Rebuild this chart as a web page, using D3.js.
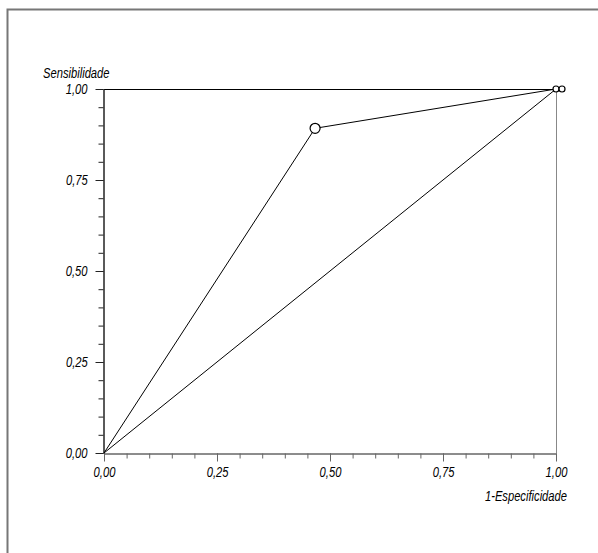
<!DOCTYPE html>
<html>
<head>
<meta charset="utf-8">
<script src="https://cdn.jsdelivr.net/npm/d3@7"></script>
<style>
  body { margin: 0; background: #fff; }
  text { font-family: "Liberation Sans", Arial, sans-serif; font-style: italic; font-size: 14px; fill: #000;
         transform-box: fill-box; transform: scaleX(0.8); }
  text.left { transform-origin: left center; }
  text.mid { transform-origin: center center; }
  text.right { transform-origin: right center; }
</style>
</head>
<body>
<script>
// ROC curve points (1-especificidade, sensibilidade)
const rocX = [0, 0.467, 1.0, 1.0133];
const rocY = [0, 0.892, 1.0, 1.0];
// points drawn with circles
const markX = [0.467, 1.0, 1.0133];
const markY = [0.892, 1.0, 1.0];
const markR = [5, 3, 3];
// reference diagonal
const diagX = [0, 1];
const diagY = [0, 1];
const majorTicks = [0, 0.25, 0.5, 0.75, 1];
const minorTicks = d3.range(0, 21).map(i => i / 20);
const fmt = d => d.toFixed(2).replace(".", ",");

let width = 598, height = 553;
let svg = d3.select("body").append("svg")
    .attr("width", width)
    .attr("height", height);

// frame round the picture (only left and top show)
svg.append("path")
    .attr("d", "M7.5,553V9.5H598")
    .attr("fill", "none")
    .attr("stroke", "#777")
    .attr("stroke-width", 2);

let x = d3.scaleLinear().domain([0, 1]).range([104, 556]),
    y = d3.scaleLinear().domain([0, 1]).range([453, 89]);

// top and right edges of the plot
svg.append("line")
    .attr("x1", x(0)).attr("x2", x(1))
    .attr("y1", y(1) + 0.5).attr("y2", y(1) + 0.5)
    .attr("stroke", "#000");
svg.append("line")
    .attr("x1", x(1) + 0.5).attr("x2", x(1) + 0.5)
    .attr("y1", y(1)).attr("y2", y(0))
    .attr("stroke", "#888");

function styleAxis(g, col) {
  g.select(".domain").attr("stroke", col);
  g.selectAll(".tick line").attr("stroke", col);
}

// x axis: minor then major ticks
let gx = svg.append("g").attr("transform", `translate(0,${y(0) + 0.5})`);
gx.call(d3.axisBottom(x).tickValues(minorTicks).tickSize(5).tickSizeOuter(0).tickFormat(""))
  .call(g => styleAxis(g, "#666"));
let gx2 = svg.append("g").attr("transform", `translate(0,${y(0) + 0.5})`);
gx2.call(d3.axisBottom(x).tickValues(majorTicks).tickSize(8).tickSizeOuter(0).tickFormat(fmt))
  .call(g => styleAxis(g, "#666"))
  .call(g => g.selectAll("text").attr("class", "mid").attr("font-family", null).attr("font-size", null)
    .attr("fill", null).attr("dy", null).attr("y", 24));

// y axis
let gy = svg.append("g").attr("transform", `translate(${x(0) - 0.5},0)`);
gy.call(d3.axisLeft(y).tickValues(minorTicks).tickSize(5).tickSizeOuter(0).tickFormat(""))
  .call(g => styleAxis(g, "#222"));
let gy2 = svg.append("g").attr("transform", `translate(${x(0) - 0.5},0)`);
gy2.call(d3.axisLeft(y).tickValues(majorTicks).tickSize(8).tickSizeOuter(0).tickFormat(fmt))
  .call(g => styleAxis(g, "#222"))
  .call(g => g.selectAll("text").attr("class", "right").attr("font-family", null).attr("font-size", null)
    .attr("fill", null).attr("x", -16).attr("dy", "0.35em"));

// axis titles
svg.append("text").attr("class", "left").attr("x", 43).attr("y", 78).text("Sensibilidade");
svg.append("text").attr("class", "right").attr("x", 567).attr("y", 501).attr("text-anchor", "end").text("1-Especificidade");

// diagonal
svg.append("path")
    .datum(d3.zip(diagX, diagY))
    .attr("fill", "none")
    .attr("stroke", "#000")
    .attr("d", d3.line().x(d => x(d[0])).y(d => y(d[1])));

// ROC curve
svg.append("path")
    .datum(d3.zip(rocX, rocY))
    .attr("fill", "none")
    .attr("stroke", "#000")
    .attr("d", d3.line().x(d => x(d[0])).y(d => y(d[1])));

svg.selectAll("circle.pt")
    .data(d3.zip(markX, markY, markR))
  .enter().append("circle")
    .attr("class", "pt")
    .attr("cx", d => x(d[0]))
    .attr("cy", d => y(d[1]))
    .attr("r", d => d[2])
    .attr("fill", "#fff")
    .attr("stroke", "#000")
    .attr("stroke-width", 1.2);
</script>
</body>
</html>
